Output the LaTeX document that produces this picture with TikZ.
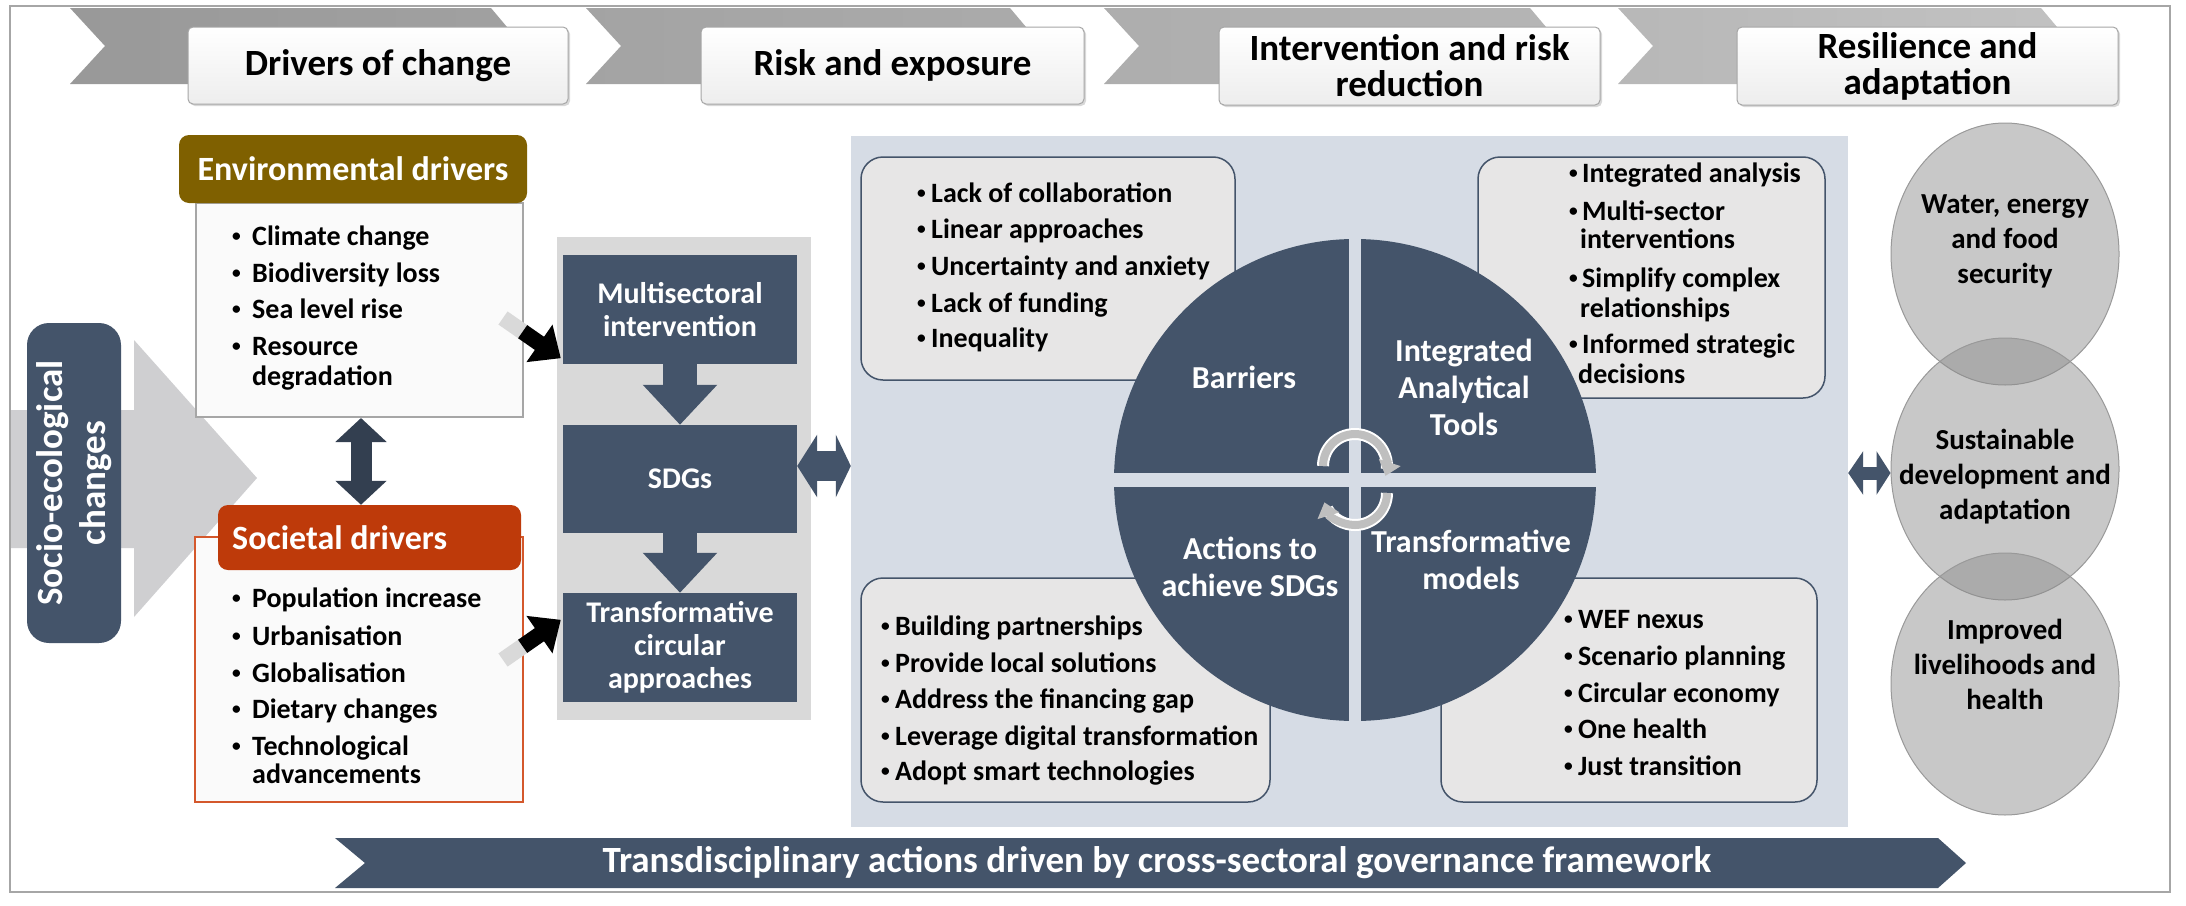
\documentclass[tikz,border=0pt]{standalone}
\usepackage{fontspec}
\setmainfont{Carlito}
\usetikzlibrary{arrows.meta,calc,shadows,shapes.geometric}
\definecolor{slate}{HTML}{44546A}
\definecolor{slatedk}{HTML}{333F50}
\definecolor{panelblue}{HTML}{D6DCE5}
\definecolor{panelgray}{HTML}{D9D9D9}
\definecolor{envbrown}{HTML}{7F6000}
\definecolor{socred}{HTML}{BE3A0A}
\definecolor{socborder}{HTML}{D4582C}
\definecolor{boxgray}{HTML}{E7E6E6}
\definecolor{lightgraytwo}{HTML}{CFCFD1}
\definecolor{circgray}{HTML}{8B8B8B}
\newcommand{\fs}[2]{\fontsize{#1}{#2}\selectfont\bfseries}
\newcommand{\bul}[1]{\makebox[#1][l]{\raisebox{0.12em}{\scalebox{0.62}{•}}}}
\begin{document}
\begin{tikzpicture}[x=1pt,y=-1pt,
  hdr/.style={draw=black!35, line width=1pt, rounded corners=5pt, top color=white, bottom color=black!7, inner sep=0pt, align=center, font=\fs{37}{36}, drop shadow={opacity=0.3, shadow xshift=2pt, shadow yshift=-2pt}},
  darkbox/.style={fill=slate, inner sep=0pt, align=center, text=white, font=\fs{30}{33}, minimum width=234pt},
  bl/.style={anchor=base west, inner sep=0pt, font=\fs{28}{30}},
  listbox/.style={draw=slate, line width=1.5pt, fill=boxgray, rounded corners=22pt, inner sep=0pt},
  quad/.style={text=white, align=center, font=\fs{32}{37}, inner sep=0pt},
  ring/.style={ellipse, draw=black!40, line width=1pt, fill=circgray, fill opacity=0.47, minimum width=228pt, minimum height=262pt, inner sep=0pt},
  ringtext/.style={align=center, font=\fs{29}{35}, inner sep=0pt},
  blk/.style={line width=16pt, -{Triangle[length=26pt,width=44pt]}},
]
\useasboundingbox (0,0) rectangle (2186,905);
\fill[white] (0,0) rectangle (2186,905);
\draw[black!35, line width=1.2pt] (10,6) rectangle (2170,892);

% chevrons
\foreach \L/\R/\ca/\cb in {70/491/40/37, 586/1010/36/33, 1104/1530/32/29, 1618/2041/28/24}{
  \shade[left color=black!\ca, right color=black!\cb] (\L,8) -- (\R,8) -- (\R+32,46) -- (\R,84) -- (\L,84) -- (\L+35,46) -- cycle;
}
\node[hdr, minimum width=380pt, minimum height=77pt] (h1) at (378,65.5) {Drivers of change};
\node[hdr, minimum width=383pt, minimum height=77pt] (h2) at (892.5,65.5) {Risk and exposure};
\node[hdr, minimum width=381pt, minimum height=78pt] (h3) at (1409.5,66) {Intervention and risk\\reduction};
\node[hdr, minimum width=381pt, minimum height=78pt] (h4) at (1927.5,66) {Resilience and\\adaptation};

% socio-ecological
\fill[lightgraytwo] (11,410) -- (134,410) -- (134,340) -- (257,478) -- (134,617) -- (134,548) -- (11,548) -- cycle;
\node[fill=slate, rounded corners=22pt, rotate=90, minimum width=320pt, minimum height=94pt, inner sep=0pt, text=white, align=center, font=\fs{37}{43}] (socio) at (74,483) {Socio-ecological\\changes};

% environmental drivers
\node[draw=black!35, line width=2pt, fill=black!2, minimum width=327pt, minimum height=214pt, inner sep=0pt] (envb) at (359.5,310) {};
\node[fill=envbrown, rounded corners=10pt, minimum width=348pt, minimum height=68pt, inner sep=0pt, text=white, font=\fs{34}{36}] (envh) at (353,169) {Environmental drivers};
\foreach \yy/\tx [count=\k] in {245/Climate change, 282/Biodiversity loss, 318/Sea level rise, 355/Resource}
  \node[bl] (env\k) at (232,\yy) {\bul{20pt}\tx};
\node[bl] (env5) at (252,385) {degradation};

% societal drivers
\node[draw=socborder, line width=2pt, fill=black!2, minimum width=328pt, minimum height=265pt, inner sep=0pt] (socb) at (359,669.5) {};
\node[fill=socred, rounded corners=10pt, minimum width=303pt, minimum height=65pt, inner sep=0pt] (soch) at (369.5,537.5) {};
\node[anchor=west, text=white, font=\fs{34}{36}, inner sep=0pt] (socht) at (232,537.5) {Societal drivers};
\foreach \yy/\tx [count=\k] in {607/Population increase, 645/Urbanisation, 682/Globalisation, 718/Dietary changes, 755/Technological}
  \node[bl] (soc\k) at (232,\yy) {\bul{20pt}\tx};
\node[bl] (soc6) at (252,783) {advancements};

\draw[slatedk, line width=21pt, {Triangle[length=24pt,width=50pt]}-{Triangle[length=24pt,width=50pt]}] (envb.south -| 361,0) -- (soch.north -| 361,0);

% middle column
\fill[panelgray] (557,237) rectangle (811,720);
\node[darkbox, minimum height=109pt] (ms) at (680,309.5) {Multisectoral\\intervention};
\node[darkbox, minimum height=108pt] (sdg) at (680,479) {SDGs};
\node[darkbox, minimum height=109pt] (tca) at (680,647.5) {Transformative\\circular\\approaches};
\draw[slate, line width=34pt, -{Triangle[length=40pt,width=72pt]}] (ms.south) -- (sdg.north);
\draw[slate, line width=34pt, -{Triangle[length=40pt,width=72pt]}] (sdg.south) -- (tca.north);

% black arrows
\coordinate (t1) at (503,318);
\coordinate (t2) at (503,660);
\coordinate (p1) at ($(ms.south west)+(-2,-6)$);
\coordinate (p2) at ($(tca.north west)+(-2,27)$);
\draw[black!15, line width=16pt] (t1) -- ($(t1)!0.36!(p1)$);
\draw[blk] ($(t1)!0.34!(p1)$) -- (p1);
\draw[black!15, line width=16pt] (t2) -- ($(t2)!0.36!(p2)$);
\draw[blk] ($(t2)!0.34!(p2)$) -- (p2);

% central panel
\node[fill=panelblue, minimum width=997pt, minimum height=691pt, inner sep=0pt] (panel) at (1349.5,481.5) {};
\draw[slate, line width=30pt, {Triangle[length=20pt,width=62pt]}-{Triangle[length=15pt,width=62pt]}] (sdg.east |- 0,466) -- (panel.west |- 0,466);

\node[listbox, minimum width=374pt, minimum height=223pt] (barbox) at (1048,268.5) {};
\node[listbox, minimum width=347pt, minimum height=241pt] (intbox) at (1651.5,277.5) {};
\node[listbox, minimum width=409pt, minimum height=224pt] (actbox) at (1065.5,690) {};
\node[listbox, minimum width=376pt, minimum height=224pt] (trbox) at (1629,690) {};

\node[circle, fill=slate, minimum size=482pt, inner sep=0pt] (wheel) at (1355,480) {};
\fill[panelblue] (1349,237) rectangle (1361,723);
\fill[panelblue] (1112,473) rectangle (1598,487);

% rotating arrows
\coordinate (c1) at (1355,466);
\coordinate (c2) at (1355,493);
\draw[white, line width=12pt] ([shift={(-180:32)}]c1) arc[start angle=-180, end angle=5, radius=32];
\draw[black!25, line width=8pt, -{Triangle[length=14pt,width=22pt]}] ([shift={(-180:32)}]c1) arc[start angle=-180, end angle=18, radius=32];
\draw[white, line width=12pt] ([shift={(0:32)}]c2) arc[start angle=0, end angle=150, radius=32];
\draw[black!25, line width=8pt, -{Triangle[length=14pt,width=22pt]}] ([shift={(0:32)}]c2) arc[start angle=0, end angle=163, radius=32];

\node[quad] (qbar) at (1244,377) {Barriers};
\node[quad] (qint) at (1464,387) {Integrated\\Analytical\\Tools};
\node[quad] (qact) at (1250,567) {Actions to\\achieve SDGs};
\node[quad] (qtra) at (1471,560) {Transformative\\models};

% bullet lists
\foreach \yy/\tx [count=\k] in {202/Lack of collaboration, 238/Linear approaches, 275/Uncertainty and anxiety, 312/Lack of funding, 347/Inequality}
  \node[bl] (bar\k) at (917,\yy) {\bul{14pt}\tx};
\foreach \yy/\tx [count=\k] in {182/Integrated analysis, 220/Multi-sector, 287/Simplify complex, 353/Informed strategic}
  \node[bl] (int\k) at (1569,\yy) {\bul{13pt}\tx};
\node[bl] (int5) at (1580,248) {interventions};
\node[bl] (int6) at (1580,317) {relationships};
\node[bl] (int7) at (1578,383) {decisions};
\foreach \yy/\tx [count=\k] in {635/Building partnerships, 672/Provide local solutions, 708/Address the financing gap, 745/Leverage digital transformation, 780/Adopt smart technologies}
  \node[bl] (act\k) at (881,\yy) {\bul{14pt}\tx};
\foreach \yy/\tx [count=\k] in {628/WEF nexus, 665/Scenario planning, 702/Circular economy, 738/One health, 775/Just transition}
  \node[bl] (tr\k) at (1564,\yy) {\bul{14pt}\tx};

% outcome circles
\node[ring] (r1) at (2005,254) {};
\node[ring] (r2) at (2005,469) {};
\node[ring] (r3) at (2005,684) {};
\node[ringtext] (r1t) at (2005,241) {Water, energy\\and food\\security};
\node[ringtext] (r2t) at (2005,477) {Sustainable\\development and\\adaptation};
\node[ringtext] (r3t) at (2005,664) {Improved\\livelihoods and\\health};
\draw[slate, line width=13pt, {Triangle[length=15pt,width=43pt]}-{Triangle[length=14pt,width=43pt]}] (panel.east |- 0,473) -- (r2.west |- 0,473);

% banner
\fill[slate] (335,838) -- (1938,838) -- (1966,863) -- (1938,888) -- (335,888) -- (365,863) -- cycle;
\node[text=white, font=\fs{37}{40}, inner sep=0pt] (banner) at (1157,863) {Transdisciplinary actions driven by cross-sectoral governance framework};
\end{tikzpicture}
\end{document}
